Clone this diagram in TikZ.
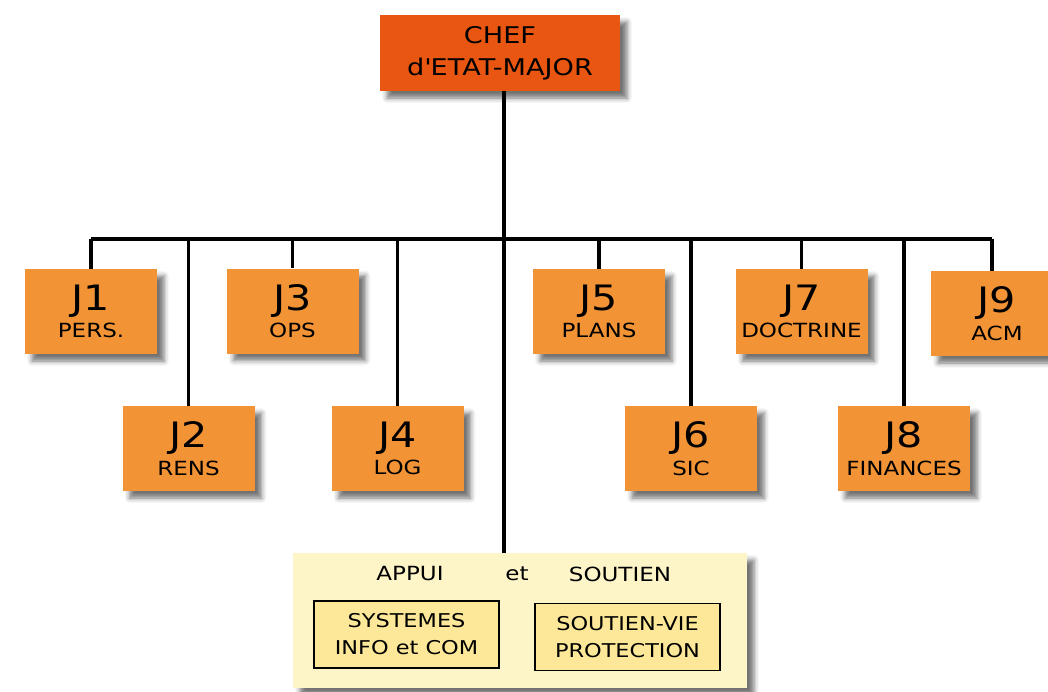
\documentclass[tikz,border=0pt]{standalone}
\usepackage{fontspec}
\setmainfont[FakeStretch=1.18]{DejaVu Sans}
\usetikzlibrary{shadows.blur}
\definecolor{jorange}{RGB}{242,148,54}
\definecolor{chefred}{RGB}{232,86,18}
\definecolor{paleyel}{RGB}{253,244,200}
\definecolor{midyel}{RGB}{252,232,152}
\newcommand{\jlab}[2]{{\fontsize{35}{35}\selectfont #1}\\[5pt]{\fontsize{19.5}{20}\selectfont #2}}
\tikzset{
  shad/.style={blur shadow={shadow xshift=7pt, shadow yshift=-7pt, shadow blur radius=5pt, shadow opacity=55}},
  jbox/.style={fill=jorange, minimum width=132pt, minimum height=85pt, inner sep=0pt, align=center, shad},
  chefbox/.style={fill=chefred, minimum width=240pt, minimum height=76pt, inner sep=0pt, align=center, font=\fontsize{23}{32}\selectfont, shad},
  suppbox/.style={fill=paleyel, minimum width=454pt, minimum height=135pt, inner sep=0pt, shad},
  innerbox/.style={fill=midyel, draw=black, line width=1.4pt, minimum width=185pt, minimum height=67pt, inner sep=0pt, align=center, font=\fontsize{19}{27}\selectfont},
  lbl/.style={font=\fontsize{19.5}{20}\selectfont, inner sep=0pt},
  conn/.style={line width=3.3pt, black}
}
\begin{document}
\begin{tikzpicture}[x=1pt,y=-1pt]
\useasboundingbox (0,0) rectangle (1048,691);
\node[chefbox] (chef) at (500,53) {CHEF\\d\textquotesingle ETAT-MAJOR};
\node[jbox] (j1) at (91,311.5) {\jlab{J1}{PERS.}};
\node[jbox] (j3) at (292.5,311) {\jlab{J3}{OPS}};
\node[jbox] (j5) at (599,311.5) {\jlab{J5}{PLANS}};
\node[jbox] (j7) at (801.5,311.5) {\jlab{J7}{DOCTRINE}};
\node[jbox] (j9) at (997,313.5) {\jlab{J9}{ACM}};
\node[jbox] (j2) at (188.5,448.5) {\jlab{J2}{RENS}};
\node[jbox] (j4) at (397.5,448.5) {\jlab{J4}{LOG}};
\node[jbox] (j6) at (691,448.5) {\jlab{J6}{SIC}};
\node[jbox] (j8) at (904,448.5) {\jlab{J8}{FINANCES}};
\node[suppbox] (supp) at (520,620.5) {};
\node[lbl] (appui) at (410,574) {APPUI};
\node[lbl] (et) at (517,574) {et};
\node[lbl] (soutien) at (620,574) {SOUTIEN};
\node[innerbox] (sic) at (406.5,634.5) {SYSTEMES\\INFO et COM};
\node[innerbox] (svp) at (627.5,637) {SOUTIEN-VIE\\PROTECTION};
\coordinate (busL) at (91,239);
\coordinate (busR) at (992,239);
\coordinate (busC) at (504,239);
\draw[conn] (busL) -- (busR);
\draw[conn] (chef.south -| busC) -- (supp.north -| busC);
\foreach \n in {j1,j2,j3,j4,j5,j6,j7,j8}
  \draw[conn] (\n.north |- busL) -- (\n.north);
\draw[conn] (busR) -- (busR |- j9.north);
\end{tikzpicture}
\end{document}
